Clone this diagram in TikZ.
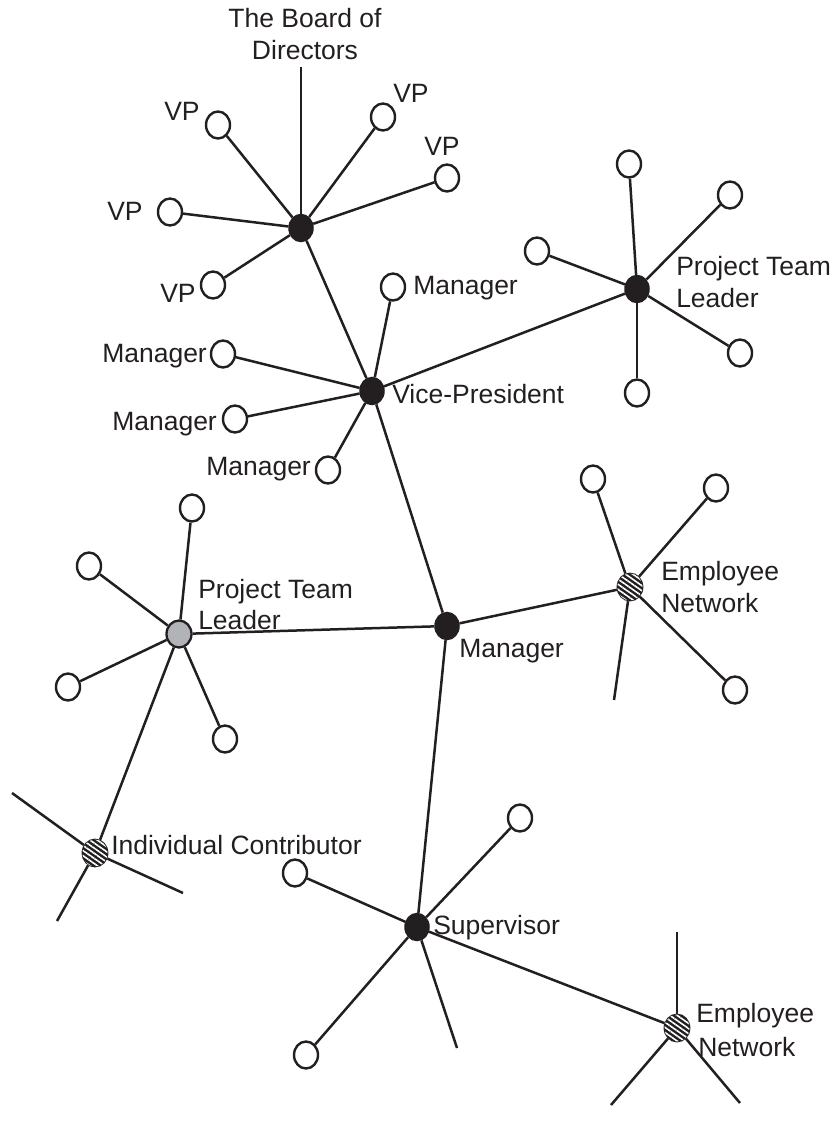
\documentclass[tikz,border=0pt]{standalone}
\usepackage{fontspec}
\setmainfont{Liberation Sans}
\usetikzlibrary{shapes.geometric,patterns.meta}
\definecolor{ink}{HTML}{231F20}
\definecolor{hubgray}{HTML}{B1B3B6}
\begin{document}
\begin{tikzpicture}[x=1pt,y=-1pt,
  line width=2.5pt, draw=ink,
  sm/.style={ellipse, draw=ink, line width=2.4pt, fill=white, minimum width=24pt, minimum height=27pt, inner sep=0pt},
  hub/.style={ellipse, draw=ink, line width=1.5pt, fill=ink, minimum width=24pt, minimum height=27pt, inner sep=0pt},
  grayhub/.style={ellipse, draw=ink, line width=2.3pt, fill=hubgray, minimum width=25pt, minimum height=27pt, inner sep=0pt},
  hatchhub/.style={ellipse, draw=ink, line width=1.8pt, fill=ink, minimum width=25pt, minimum height=27pt, inner sep=0pt,
    postaction={pattern={Lines[angle=-35,distance=4.2pt,line width=1.6pt]}, pattern color=white}},
  lbl/.style={anchor=base west, inner sep=0pt, text=ink, font=\fontsize{26.5}{32}\selectfont},
  lblc/.style={anchor=base, inner sep=0pt, text=ink, font=\fontsize{26.5}{32}\selectfont},
  link/.style={draw=ink, line width=2.5pt}]
\useasboundingbox (0,0) rectangle (830,1136);

% hubs
\node[hub] (A) at (301,228) {};
\node[hub] (B) at (372,391) {};
\node[hub] (C) at (637,289) {};
\node[hub] (D) at (447,626) {};
\node[hatchhub] (F) at (630,587) {};
\node[grayhub] (E) at (179,634) {};
\node[hatchhub] (H) at (95,853) {};
\node[hub] (G) at (417,927) {};
\node[hatchhub] (I) at (677,1028) {};

% VP circles
\node[sm] (vp1) at (218,125) {};
\node[sm] (vp2) at (383,117) {};
\node[sm] (vp3) at (447,178) {};
\node[sm] (vp4) at (170,212) {};
\node[sm] (vp5) at (213,285) {};
\coordinate (board) at (301,67);

% Manager circles
\node[sm] (m1) at (393,287) {};
\node[sm] (m2) at (223,354) {};
\node[sm] (m3) at (235,419) {};
\node[sm] (m4) at (328,470) {};

% Project team leader C
\node[sm] (c1) at (629,164) {};
\node[sm] (c2) at (730,195) {};
\node[sm] (c3) at (537,251) {};
\node[sm] (c4) at (740,353) {};
\node[sm] (c5) at (637,393) {};

% Employee network F
\node[sm] (f1) at (593,479) {};
\node[sm] (f2) at (716,488) {};
\node[sm] (f3) at (735,690) {};
\coordinate (f4) at (614,700);

% Project team leader E
\node[sm] (e1) at (192,508) {};
\node[sm] (e2) at (89,566) {};
\node[sm] (e3) at (68,687) {};
\node[sm] (e4) at (225,739) {};

% Individual contributor H
\coordinate (h1) at (12,793);
\coordinate (h2) at (183,893);
\coordinate (h3) at (57,921);

% Supervisor G
\node[sm] (g1) at (295,873) {};
\node[sm] (g2) at (520,818) {};
\node[sm] (g3) at (306,1055) {};
\coordinate (g4) at (457,1048);

% Employee network I
\coordinate (i1) at (677,932);
\coordinate (i2) at (611,1105);
\coordinate (i3) at (740,1103);

% connectors
\foreach \n in {vp1,vp2,vp3,vp4,vp5,board,B} \draw[link] (A) -- (\n);
\foreach \n in {m1,m2,m3,m4,C,D} \draw[link] (B) -- (\n);
\foreach \n in {c1,c2,c3,c4,c5} \draw[link] (C) -- (\n);
\foreach \n in {E,F,G} \draw[link] (D) -- (\n);
\foreach \n in {f1,f2,f3,f4} \draw[link] (F) -- (\n);
\foreach \n in {e1,e2,e3,e4,H} \draw[link] (E) -- (\n);
\foreach \n in {h1,h2,h3} \draw[link] (H) -- (\n);
\foreach \n in {g1,g2,g3,g4,I} \draw[link] (G) -- (\n);
\foreach \n in {i1,i2,i3} \draw[link] (I) -- (\n);

% labels
\node[lblc] (t1) at (305,27) {The Board of};
\node[lblc] (t2) at (305,59) {Directors};
\node[lbl] (lvp1) at (163,120) {VP};
\node[lbl] (lvp2) at (392,102) {VP};
\node[lbl] (lvp3) at (423,155) {VP};
\node[lbl] (lvp4) at (106,220) {VP};
\node[lbl] (lvp5) at (159,302) {VP};
\node[lbl] (lm1) at (412,294) {Manager};
\node[lbl] (lm2) at (101,362) {Manager};
\node[lbl] (lm3) at (111,430) {Manager};
\node[lbl] (lm4) at (205,475) {Manager};
\node[lbl] (lB) at (391,403) {Vice-President};
\node[lbl] (lC1) at (675,275) {Project Team};
\node[lbl] (lC2) at (675,307) {Leader};
\node[lbl] (lF1) at (660,580) {Employee};
\node[lbl] (lF2) at (660,612) {Network};
\node[lbl] (lE1) at (197,598) {Project Team};
\node[lbl] (lE2) at (197,629) {Leader};
\node[lbl] (lD) at (458,657) {Manager};
\node[lbl] (lH) at (110,854) {Individual Contributor};
\node[lbl] (lG) at (432,934) {Supervisor};
\node[lbl] (lI1) at (695,1022) {Employee};
\node[lbl] (lI2) at (697,1056) {Network};
\end{tikzpicture}
\end{document}
